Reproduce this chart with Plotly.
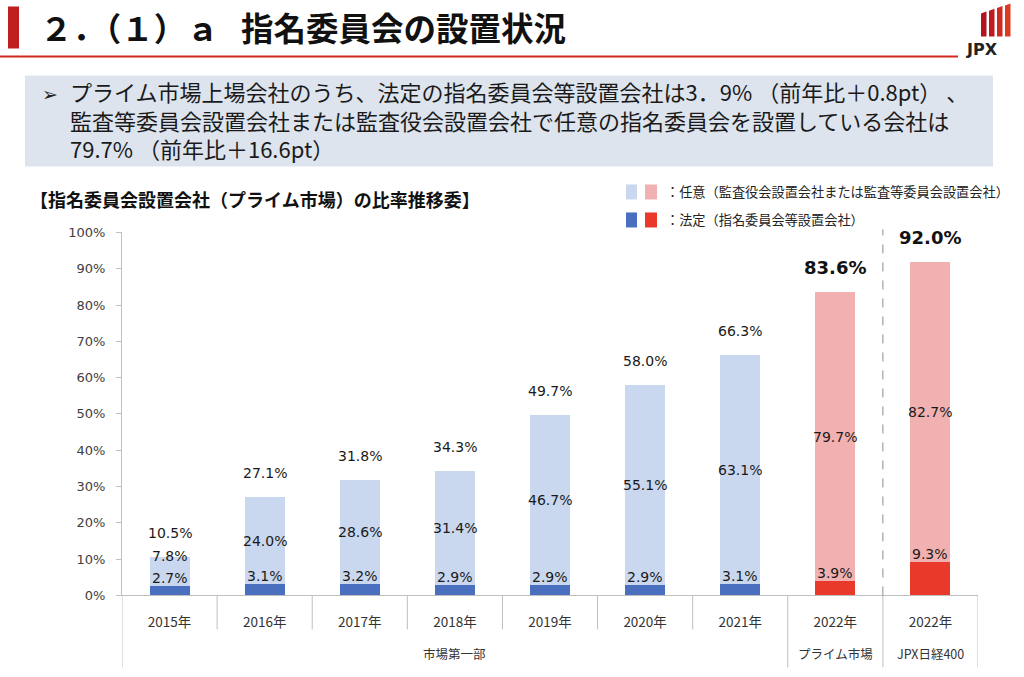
import plotly.graph_objects as go

# ---------------- data ----------------
years = ["2015年", "2016年", "2017年", "2018年", "2019年", "2020年", "2021年", "2022年", "2022年"]
groups = ["市場第一部"] * 7 + ["プライム市場", "JPX日経400"]
statutory = [2.7, 3.1, 3.2, 2.9, 2.9, 2.9, 3.1, 3.9, 9.3]        # 法定
voluntary = [7.8, 24.0, 28.6, 31.4, 46.7, 55.1, 63.1, 79.7, 82.7]  # 任意
totals = [10.5, 27.1, 31.8, 34.3, 49.7, 58.0, 66.3, 83.6, 92.0]

# ---------------- styles ----------------
W, H = 1024, 677
def px(x): return x / W
def py(y): return 1 - ((y - 7.5) / 0.978) / H   # page-pixel -> paper fraction (calibrated)

BLUE_D, BLUE_L = "#4a6fbf", "#c9d7ef"
RED_D, RED_L = "#e8392a", "#f2b1b1"
dark_cols = [BLUE_D] * 7 + [RED_D] * 2
light_cols = [BLUE_L] * 7 + [RED_L] * 2
NUMF = "DejaVu Sans, Noto Sans CJK JP"
JPF = "Noto Sans CJK JP"
TXT = "#1a1a1a"

xs = list(range(len(years)))
fig = go.Figure()
fig.add_bar(x=xs, y=[v / 100 for v in statutory], marker=dict(color=dark_cols, line_width=0),
            width=0.42, hoverinfo="skip", name="法定")
fig.add_bar(x=xs, y=[v / 100 for v in voluntary], marker=dict(color=light_cols, line_width=0),
            width=0.42, hoverinfo="skip", name="任意")

ann = []
shapes = []
# value labels
vol_shift = [15, 0, 0, 0, 0, 0, 0, 0, 0]
for i in xs:
    ann.append(dict(x=i, y=statutory[i] / 100, xref="x", yref="y", text=f"{statutory[i]:.1f}%",
                    showarrow=False, yshift=8, yanchor="middle",
                    font=dict(family=NUMF, size=14, color=TXT)))
    ann.append(dict(x=i, y=(statutory[i] + voluntary[i] / 2) / 100, xref="x", yref="y",
                    text=f"{voluntary[i]:.1f}%", showarrow=False, yshift=vol_shift[i], yanchor="middle",
                    font=dict(family=NUMF, size=14, color=TXT)))
    bold = groups[i] != "市場第一部"
    ann.append(dict(x=i, y=totals[i] / 100, xref="x", yref="y",
                    text=(f"<b>{totals[i]:.1f}%</b>" if bold else f"{totals[i]:.1f}%"),
                    showarrow=False, yshift=24, yanchor="middle",
                    font=dict(family=NUMF, size=18 if bold else 14, color="#111" if bold else TXT)))

# category separators and group labels
bounds = [-0.5]
for i in range(1, len(groups)):
    if groups[i] != groups[i - 1]:
        bounds.append(i - 0.5)
bounds.append(len(groups) - 0.5)
for k in range(len(years) + 1):
    xb = k - 0.5
    y_end = py(668) if xb in bounds else py(630)
    shapes.append(dict(type="line", xref="x", yref="paper", x0=xb, x1=xb, y0=py(596), y1=y_end,
                       line=dict(color="#bfbfbf", width=1)))
for a, b in zip(bounds[:-1], bounds[1:]):
    ann.append(dict(x=(a + b) / 2, y=py(654), xref="x", yref="paper", text=groups[int(a + 0.5)],
                    showarrow=False, yanchor="middle", font=dict(family=JPF, size=12.5, color="#333")))

# dashed divider between prime and JPX400
shapes.append(dict(type="line", xref="x", yref="paper", x0=bounds[-2], x1=bounds[-2],
                   y0=py(596), y1=py(230), line=dict(color="#8c8c8c", width=1, dash="dash")))

# ---------------- header ----------------
shapes.append(dict(type="rect", xref="paper", yref="paper", x0=px(8), x1=px(19), y0=py(49), y1=py(7),
                   fillcolor="#bf1e1e", line_width=0))
shapes.append(dict(type="rect", xref="paper", yref="paper", x0=px(0), x1=px(958), y0=py(58), y1=py(56),
                   fillcolor="#d2281f", line_width=0))
ann.append(dict(x=px(38), y=py(27), xref="paper", yref="paper", xanchor="left", yanchor="middle",
                text="<b>２．（１）ａ   指名委員会の設置状況</b>", showarrow=False,
                font=dict(family=JPF, size=32.5, color="#111")))
# JPX logo
stripe_cols = ["#b3121e", "#c01a20", "#cf2a22", "#dc3a22"]
for k in range(4):
    x0 = 981 + 8 * k
    top = 12 - 2.7 * k
    shapes.append(dict(type="path", xref="paper", yref="paper",
                       path=f"M {px(x0)} {py(top + 2)} L {px(x0 + 5.5)} {py(top)} L {px(x0 + 5.5)} {py(37)} L {px(x0)} {py(37)} Z",
                       fillcolor=stripe_cols[k], line_width=0))
ann.append(dict(x=px(1000), y=py(50), xref="paper", yref="paper", text="<b>JPX</b>", showarrow=False,
                yanchor="middle", font=dict(family="DejaVu Sans", size=16, color="#222")))

# summary box
shapes.append(dict(type="rect", xref="paper", yref="paper", x0=px(25), x1=px(993), y0=py(167), y1=py(76),
                   fillcolor="#dde4ee", line_width=0))
ann.append(dict(x=px(40), y=py(95), xref="paper", yref="paper", text="➢", showarrow=False,
                yanchor="middle", font=dict(family="DejaVu Sans", size=19, color="#222")))
summary = ("プライム市場上場会社のうち、法定の指名委員会等設置会社は3．9% （前年比＋0.8pt） 、<br>"
           "監査等委員会設置会社または監査役会設置会社で任意の指名委員会を設置している会社は<br>"
           "79.7% （前年比＋16.6pt）")
ann.append(dict(x=px(68), y=py(120), xref="paper", yref="paper", xanchor="left", yanchor="middle",
                align="left", text=summary, showarrow=False,
                font=dict(family=JPF, size=22, color="#1a1a1a")))

# chart title
ann.append(dict(x=px(28), y=py(200), xref="paper", yref="paper", xanchor="left", yanchor="middle",
                text="<b>【指名委員会設置会社（プライム市場）の比率推移委】</b>", showarrow=False,
                font=dict(family=JPF, size=18, color="#111")))

# legend (manual)
leg = [("：任意（監査役会設置会社または監査等委員会設置会社）", BLUE_L, RED_L, 192),
       ("：法定（指名委員会等設置会社）", BLUE_D, RED_D, 220)]
for text, c1, c2, yc in leg:
    shapes.append(dict(type="rect", xref="paper", yref="paper", x0=px(626), x1=px(637),
                       y0=py(yc + 8), y1=py(yc - 7), fillcolor=c1, line_width=0))
    shapes.append(dict(type="rect", xref="paper", yref="paper", x0=px(645), x1=px(657),
                       y0=py(yc + 8), y1=py(yc - 7), fillcolor=c2, line_width=0))
    ann.append(dict(x=px(664), y=py(yc), xref="paper", yref="paper", xanchor="left", yanchor="middle",
                    text=text, showarrow=False, font=dict(family=JPF, size=13.2, color="#222")))

fig.update_layout(
    width=W, height=H, barmode="stack", showlegend=False,
    margin=dict(l=0, r=0, t=0, b=0),
    paper_bgcolor="white", plot_bgcolor="white",
    xaxis=dict(domain=[px(122), px(978)], range=[-0.5, len(years) - 0.5],
               tickvals=xs, ticktext=years, ticks="", showgrid=False, zeroline=False,
               showline=True, linecolor="#bfbfbf", ticklabelstandoff=14,
               tickfont=dict(family=JPF, size=13.5, color="#333")),
    yaxis=dict(domain=[py(596), py(233)], range=[0, 1], dtick=0.1, tickformat=".0%",
               showgrid=False, zeroline=False, showline=True, linecolor="#bfbfbf",
               ticks="outside", ticklen=5, tickcolor="#bfbfbf", ticklabelstandoff=8,
               tickfont=dict(family=NUMF, size=13, color="#404040")),
    annotations=ann, shapes=shapes,
)
fig.write_html("out.html", config={"displayModeBar": False},
               post_script="document.body.style.margin='0';")
